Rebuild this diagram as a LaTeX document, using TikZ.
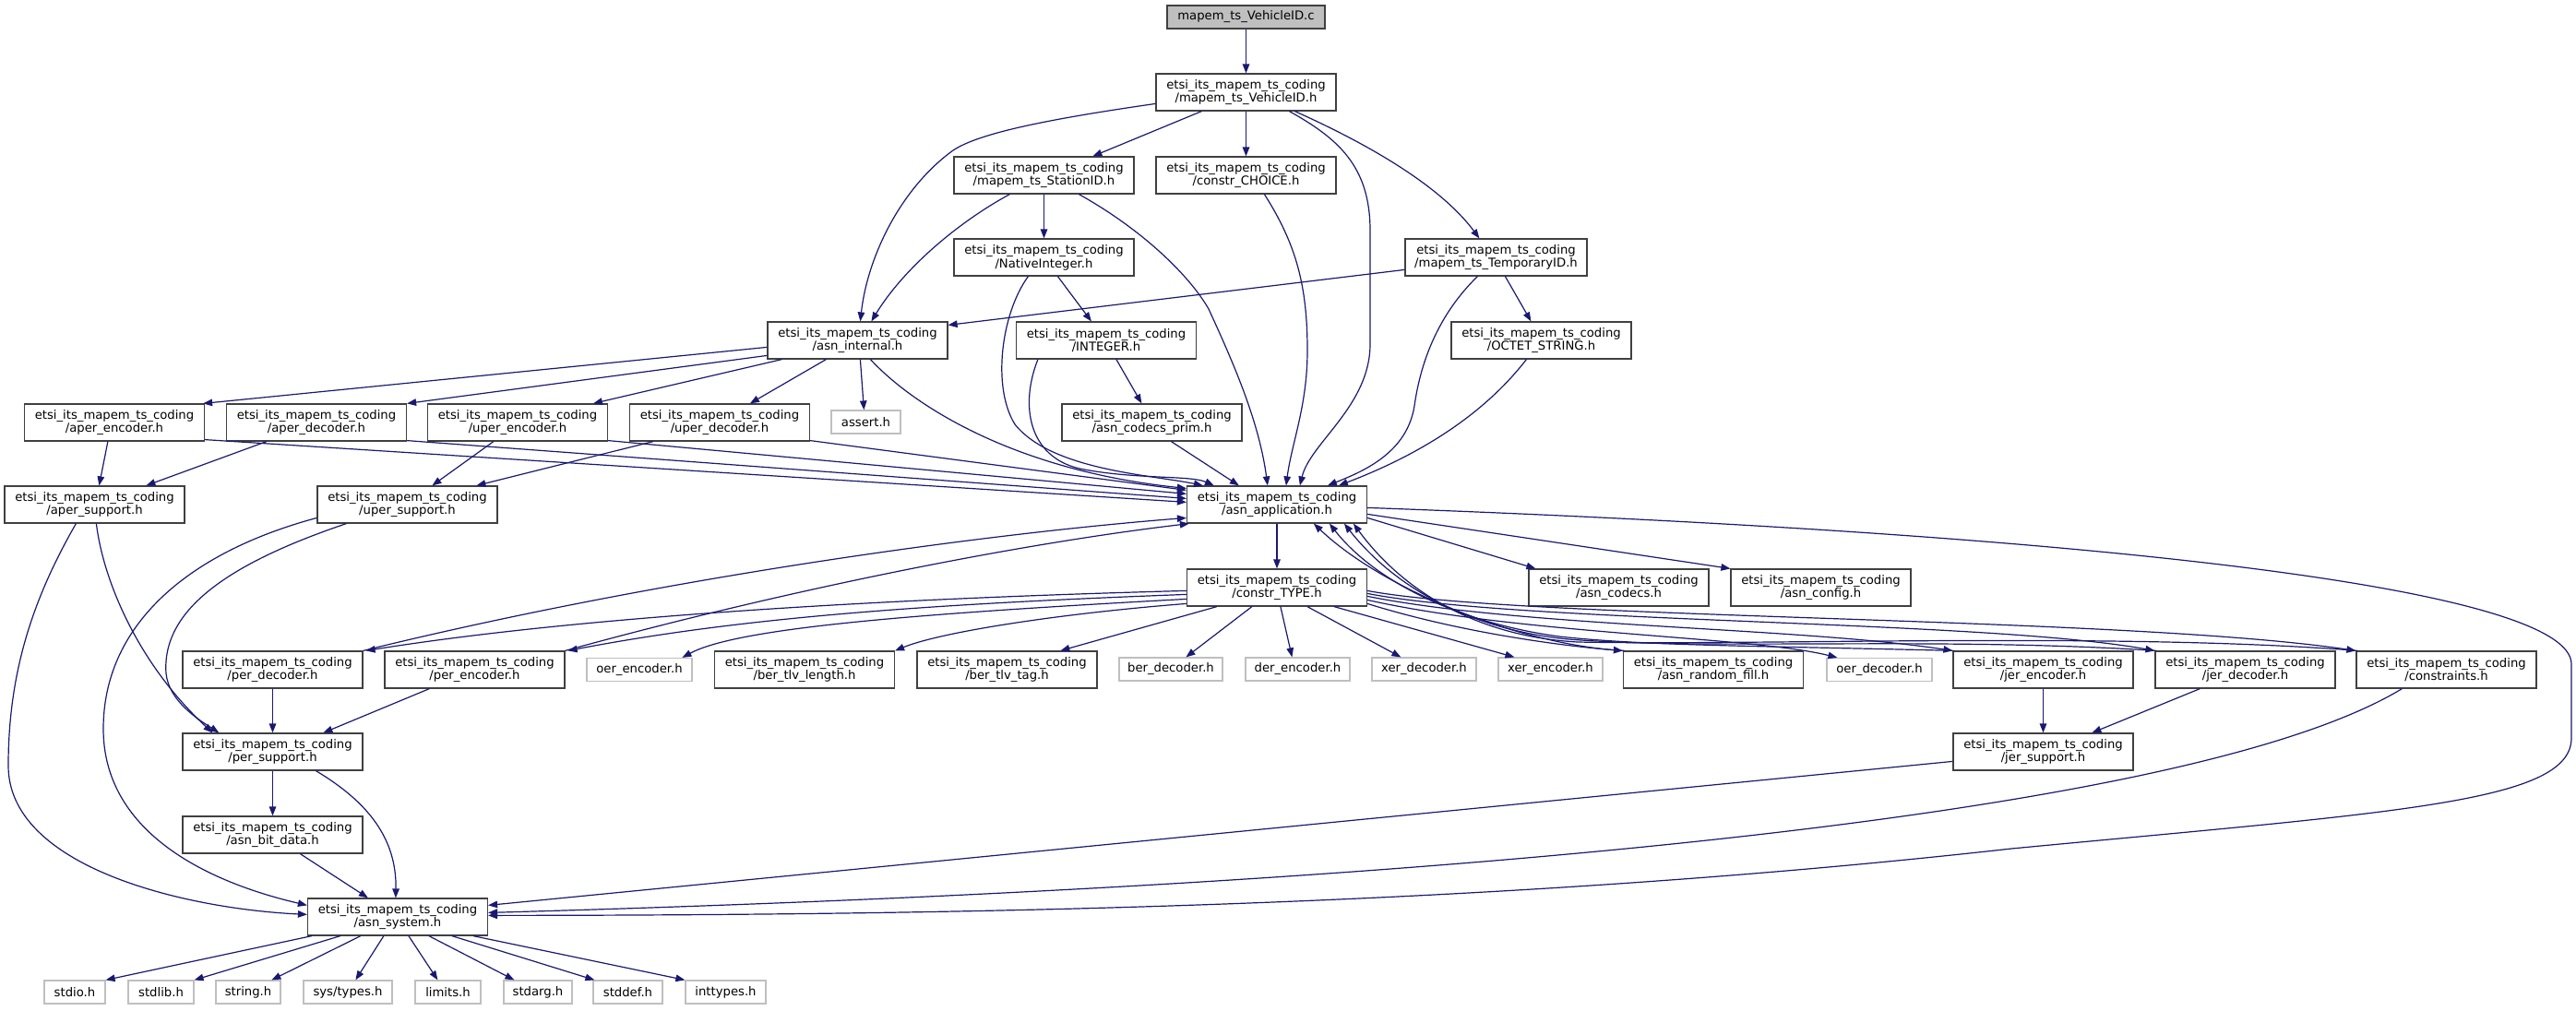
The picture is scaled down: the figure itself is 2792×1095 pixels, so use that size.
\documentclass[tikz,border=0pt]{standalone}
\usepackage{fontspec}
\newfontfamily\gfam{DejaVu Sans}
\usetikzlibrary{arrows.meta}
\definecolor{edgeblue}{HTML}{191970}
\definecolor{ndborder}{HTML}{404040}
\definecolor{sysborder}{HTML}{BFBFBF}
\definecolor{rootfill}{HTML}{BFBFBF}
\newcommand{\gfnt}{\gfam\fontsize{13.2pt}{14.8pt}\selectfont}
\begin{document}
\begin{tikzpicture}[x=1pt,y=-1pt,
  nd/.style={draw=ndborder, line width=1.2pt, fill=white, inner sep=0pt, align=center, font=\gfnt, minimum height=40pt, minimum width=195pt},
  sysnd/.style={draw=sysborder, line width=1.2pt, fill=white, inner sep=0pt, font=\gfnt, minimum height=25pt},
  rootnd/.style={draw=ndborder, line width=1.2pt, fill=rootfill, inner sep=0pt, font=\gfnt, minimum height=25pt},
  edge/.style={draw=edgeblue, line width=1.2pt, -{Triangle[length=10pt,width=7.5pt]}}]
\fill[white] (0,0) rectangle (2792,1095);
\useasboundingbox (0,0) rectangle (2792,1095);
% nodes
\node[rootnd, minimum width=171pt] (root) at (1350.5,18.5) {mapem\_ts\_VehicleID.c};
\node[nd] (vh) at (1350.5,100) {etsi\_its\_mapem\_ts\_coding\\/mapem\_ts\_VehicleID.h};
\node[nd] (st) at (1131.5,190) {etsi\_its\_mapem\_ts\_coding\\/mapem\_ts\_StationID.h};
\node[nd] (ch) at (1350.5,190) {etsi\_its\_mapem\_ts\_coding\\/constr\_CHOICE.h};
\node[nd] (ni) at (1131.5,279) {etsi\_its\_mapem\_ts\_coding\\/NativeInteger.h};
\node[nd, minimum width=197pt] (tmp) at (1621.5,279) {etsi\_its\_mapem\_ts\_coding\\/mapem\_ts\_TemporaryID.h};
\node[nd] (ai) at (929.5,369) {etsi\_its\_mapem\_ts\_coding\\/asn\_internal.h};
\node[nd] (int) at (1199,369) {etsi\_its\_mapem\_ts\_coding\\/INTEGER.h};
\node[nd] (oct) at (1670.5,369) {etsi\_its\_mapem\_ts\_coding\\/OCTET\_STRING.h};
\node[nd] (acp) at (1248.5,458) {etsi\_its\_mapem\_ts\_coding\\/asn\_codecs\_prim.h};
\node[nd] (aenc) at (124,458) {etsi\_its\_mapem\_ts\_coding\\/aper\_encoder.h};
\node[nd] (adec) at (343,458) {etsi\_its\_mapem\_ts\_coding\\/aper\_decoder.h};
\node[nd] (uenc) at (561,458) {etsi\_its\_mapem\_ts\_coding\\/uper\_encoder.h};
\node[nd] (udec) at (780,458) {etsi\_its\_mapem\_ts\_coding\\/uper\_decoder.h};
\node[sysnd, minimum width=75pt] (assert) at (938.5,457.5) {assert.h};
\node[nd] (asup) at (102.5,547) {etsi\_its\_mapem\_ts\_coding\\/aper\_support.h};
\node[nd] (usup) at (441.5,547) {etsi\_its\_mapem\_ts\_coding\\/uper\_support.h};
\node[nd] (app) at (1384,547) {etsi\_its\_mapem\_ts\_coding\\/asn\_application.h};
\node[nd] (ctype) at (1384,637) {etsi\_its\_mapem\_ts\_coding\\/constr\_TYPE.h};
\node[nd] (codecs) at (1754.5,637) {etsi\_its\_mapem\_ts\_coding\\/asn\_codecs.h};
\node[nd] (config) at (1973.5,637) {etsi\_its\_mapem\_ts\_coding\\/asn\_config.h};
\node[nd] (pdec) at (295.5,726) {etsi\_its\_mapem\_ts\_coding\\/per\_decoder.h};
\node[nd] (penc) at (514.5,726) {etsi\_its\_mapem\_ts\_coding\\/per\_encoder.h};
\node[sysnd, minimum width=114pt] (oenc) at (693,726) {oer\_encoder.h};
\node[nd] (btl) at (872,726) {etsi\_its\_mapem\_ts\_coding\\/ber\_tlv\_length.h};
\node[nd] (btt) at (1091.5,726) {etsi\_its\_mapem\_ts\_coding\\/ber\_tlv\_tag.h};
\node[sysnd, minimum width=112pt] (berd) at (1269,725.5) {ber\_decoder.h};
\node[sysnd, minimum width=113pt] (dere) at (1406.5,725.5) {der\_encoder.h};
\node[sysnd, minimum width=113pt] (xerd) at (1543.5,725.5) {xer\_decoder.h};
\node[sysnd, minimum width=113pt] (xere) at (1680.5,725.5) {xer\_encoder.h};
\node[nd] (rfill) at (1857,726) {etsi\_its\_mapem\_ts\_coding\\/asn\_random\_fill.h};
\node[sysnd, minimum width=114pt] (oerd) at (2037,726) {oer\_decoder.h};
\node[nd] (jenc) at (2214.5,726) {etsi\_its\_mapem\_ts\_coding\\/jer\_encoder.h};
\node[nd] (jdec) at (2433.5,726) {etsi\_its\_mapem\_ts\_coding\\/jer\_decoder.h};
\node[nd] (cons) at (2651.5,726) {etsi\_its\_mapem\_ts\_coding\\/constraints.h};
\node[nd] (jsup) at (2214.5,815) {etsi\_its\_mapem\_ts\_coding\\/jer\_support.h};
\node[nd] (psup) at (295.5,815) {etsi\_its\_mapem\_ts\_coding\\/per\_support.h};
\node[nd] (bit) at (295.5,905) {etsi\_its\_mapem\_ts\_coding\\/asn\_bit\_data.h};
\node[nd] (sys) at (431,994) {etsi\_its\_mapem\_ts\_coding\\/asn\_system.h};
\node[sysnd, minimum width=66pt] (stdio) at (81,1075.5) {stdio.h};
\node[sysnd, minimum width=71pt] (stdlib) at (174.5,1075.5) {stdlib.h};
\node[sysnd, minimum width=70pt] (string) at (269,1075.5) {string.h};
\node[sysnd, minimum width=96pt] (systypes) at (377,1075.5) {sys/types.h};
\node[sysnd, minimum width=71pt] (limits) at (485.5,1075.5) {limits.h};
\node[sysnd, minimum width=74pt] (stdarg) at (583,1075.5) {stdarg.h};
\node[sysnd, minimum width=75pt] (stddef) at (680.5,1075.5) {stddef.h};
\node[sysnd, minimum width=87pt] (inttypes) at (786.5,1075.5) {inttypes.h};
% edges
\draw[edge] (root.south) -- (vh.north);
\draw[edge] ([xshift=145pt]vh.south west) .. controls (1450,150) and (1485,180) .. (1485,250) -- (1485,373) .. controls (1485,440) and (1420,480) .. ([xshift=123pt]app.north west);
\draw[edge] ([xshift=50pt]vh.south west) -- ([xshift=151pt]st.north west);
\draw[edge] ([yshift=-33pt]vh.north west) .. controls (1130,130) and (1060,145) .. (1033,163) .. controls (975,205) and (940,280) .. ([xshift=101pt]ai.north west);
\draw[edge] (vh.south) -- (ch.north);
\draw[edge] ([xshift=151pt]vh.south west) .. controls (1480,155) and (1560,200) .. ([xshift=81pt]tmp.north west);
\draw[edge] ([xshift=136pt]st.south west) .. controls (1240,250) and (1290,300) .. (1310,335) .. controls (1340,400) and (1365,460) .. ([xshift=88pt]app.north west);
\draw[edge] (st.south) -- (ni.north);
\draw[edge] ([xshift=61pt]st.south west) .. controls (1040,240) and (980,290) .. ([xshift=113pt]ai.north west);
\draw[edge] ([xshift=81pt]ni.south west) .. controls (1085,340) and (1075,420) .. (1100,460) .. controls (1140,510) and (1250,515) .. ([xshift=18pt]app.north west);
\draw[edge] ([xshift=113pt]ni.south west) -- ([xshift=82pt]int.north west);
\draw[edge] ([xshift=24pt]int.south west) .. controls (1105,440) and (1115,495) .. (1170,508) .. controls (1230,520) and (1290,515) .. ([xshift=30pt]app.north west);
\draw[edge] ([xshift=109pt]int.south west) -- ([xshift=87pt]acp.north west);
\draw[edge] ([xshift=119pt]acp.south west) -- ([xshift=57pt]app.north west);
\draw[edge] ([xshift=118pt]ch.south west) .. controls (1405,265) and (1417,310) .. (1417,380) .. controls (1417,440) and (1400,480) .. ([xshift=108pt]app.north west);
\draw[edge] ([xshift=79pt]tmp.south west) .. controls (1560,340) and (1540,390) .. (1533,440) .. controls (1525,490) and (1480,510) .. ([xshift=153pt]app.north west);
\draw[edge] ([yshift=-34pt]tmp.north west) -- ([yshift=-4pt]ai.north east);
\draw[edge] ([xshift=109pt]tmp.south west) -- ([xshift=87pt]oct.north west);
\draw[edge] ([xshift=82pt]oct.south west) .. controls (1600,460) and (1520,500) .. ([xshift=165pt]app.north west);
\draw[edge] ([xshift=112pt]ai.south west) .. controls (990,440) and (1100,510) .. ([yshift=-3pt]app.north west);
\draw[edge] ([yshift=-28pt]ai.north west) -- ([xshift=-2pt]aenc.north east);
\draw[edge] ([yshift=-37pt]ai.north west) -- (adec.north east);
\draw[edge] ([xshift=16pt]ai.south west) -- ([xshift=180pt]uenc.north west);
\draw[edge] ([xshift=64pt]ai.south west) -- ([xshift=131pt]udec.north west);
\draw[edge] ([xshift=101pt]ai.south west) -- ([xshift=36pt]assert.north west);
\draw[edge] ([yshift=2pt]aenc.south east) -- ([yshift=-18pt]app.north west);
\draw[edge] ([yshift=1pt]adec.south east) -- ([yshift=-14pt]app.north west);
\draw[edge] ([yshift=1pt]uenc.south east) -- ([yshift=-9pt]app.north west);
\draw[edge] ([yshift=1pt]udec.south east) -- ([yshift=-5pt]app.north west);
\draw[edge] ([xshift=91pt]aenc.south west) -- ([xshift=103pt]asup.north west);
\draw[edge] ([xshift=44pt]adec.south west) -- ([xshift=154pt]asup.north west);
\draw[edge] ([xshift=72pt]uenc.south west) -- ([xshift=125pt]usup.north west);
\draw[edge] ([xshift=26pt]udec.south west) -- ([xshift=173pt]usup.north west);
\draw[edge] ([xshift=78pt]asup.south west) .. controls (35,650) and (9,730) .. (9,830) .. controls (9,940) and (200,985) .. ([yshift=-18pt]sys.north west);
\draw[edge] ([xshift=100pt]asup.south west) .. controls (112,630) and (150,720) .. ([xshift=33pt]psup.north west);
\draw[edge] ([yshift=-35pt]usup.north west) .. controls (200,600) and (112,680) .. (112,790) .. controls (112,900) and (220,955) .. ([yshift=-8pt]sys.north west);
\draw[edge] ([xshift=32pt]usup.south west) .. controls (250,610) and (175,660) .. (180,730) .. controls (183,760) and (215,780) .. ([xshift=40pt]psup.north west);
\draw[edge] ([yshift=-24pt]app.north east) .. controls (2300,580) and (2787,640) .. (2787,720) -- (2787,800) .. controls (2787,870) and (2600,880) .. (2180,920) .. controls (1600,985) and (1000,992) .. ([yshift=-19pt]sys.north east);
\draw[edge] ([yshift=-35pt]app.north east) -- ([xshift=8pt]codecs.north west);
\draw[edge] (app.south) -- (ctype.north);
\draw[edge] ([yshift=-31pt]app.north east) -- (config.north west);
\draw[edge] ([yshift=-24pt]ctype.north west) .. controls (1000,648) and (650,665) .. ([xshift=3pt]pdec.north east);
\draw[edge] (pdec.north east) .. controls (700,630) and (1050,580) .. ([yshift=-35pt]app.north west);
\draw[edge] ([yshift=-28pt]ctype.north west) .. controls (1000,655) and (800,670) .. ([xshift=3pt]penc.north east);
\draw[edge] (penc.north east) .. controls (850,640) and (1100,590) .. ([xshift=3pt]app.south west);
\draw[edge] ([yshift=-33pt]ctype.north west) .. controls (1000,665) and (800,680) .. ([xshift=104pt]oenc.north west);
\draw[edge] ([yshift=-38pt]ctype.north west) .. controls (1150,665) and (1020,685) .. (btl.north east);
\draw[edge] ([xshift=33pt]ctype.south west) -- ([xshift=156pt]btt.north west);
\draw[edge] ([xshift=71pt]ctype.south west) -- ([xshift=73pt]berd.north west);
\draw[edge] ([xshift=102pt]ctype.south west) -- ([xshift=51pt]dere.north west);
\draw[edge] ([xshift=131pt]ctype.south west) -- ([xshift=32pt]xerd.north west);
\draw[edge] ([xshift=160pt]ctype.south west) -- ([xshift=18pt]xere.north west);
\draw[edge] ([yshift=-38pt]ctype.north east) .. controls (1580,685) and (1690,700) .. (rfill.north west);
\draw[edge] ([yshift=-34pt]ctype.north east) .. controls (1650,688) and (1900,690) .. ([xshift=12pt]oerd.north west);
\draw[edge] ([yshift=-30pt]ctype.north east) .. controls (1650,680) and (1950,680) .. (jenc.north west);
\draw[edge] ([yshift=-27pt]ctype.north east) .. controls (1650,676) and (2150,672) .. (jdec.north west);
\draw[edge] ([yshift=-24pt]ctype.north east) .. controls (1650,672) and (2300,668) .. (cons.north west);
\draw[edge] ([xshift=2pt]rfill.north west) .. controls (1650,700) and (1500,640) .. ([xshift=138pt]app.south west);
\draw[edge] ([xshift=2pt]jenc.north west) .. controls (1900,700) and (1780,700) .. (1690,690) .. controls (1580,675) and (1490,630) .. ([xshift=155pt]app.south west);
\draw[edge] ([xshift=2pt]jdec.north west) .. controls (2100,690) and (1850,705) .. (1700,693) .. controls (1590,682) and (1510,635) .. ([xshift=171pt]app.south west);
\draw[edge] ([xshift=2pt]cons.north west) .. controls (2300,685) and (1900,700) .. (1710,696) .. controls (1600,690) and (1520,640) .. ([xshift=181pt]app.south west);
\draw[edge] (jenc.south) -- (jsup.north);
\draw[edge] ([xshift=49pt]jdec.south west) -- ([xshift=151pt]jsup.north west);
\draw[edge] ([xshift=50pt]cons.south west) .. controls (2350,900) and (1400,965) .. ([yshift=-16pt]sys.north east);
\draw[edge] ([yshift=-31pt]jsup.north west) -- ([yshift=-8pt]sys.north east);
\draw[edge] (pdec.south) -- (psup.north);
\draw[edge] ([xshift=49pt]penc.south west) -- ([xshift=153pt]psup.north west);
\draw[edge] (psup.south) -- (bit.north);
\draw[edge] ([xshift=145pt]psup.south west) .. controls (400,870) and (430,910) .. ([xshift=96pt]sys.north west);
\draw[edge] ([xshift=128pt]bit.south west) -- ([xshift=66pt]sys.north west);
\draw[edge] ([xshift=5pt]sys.south west) -- (stdio.north east);
\draw[edge] ([xshift=36pt]sys.south west) -- (stdlib.north east);
\draw[edge] ([xshift=58pt]sys.south west) -- ([xshift=61pt]string.north west);
\draw[edge] ([xshift=83pt]sys.south west) -- ([xshift=57pt]systypes.north west);
\draw[edge] ([xshift=110pt]sys.south west) -- ([xshift=25pt]limits.north west);
\draw[edge] ([xshift=132pt]sys.south west) -- ([xshift=12pt]stdarg.north west);
\draw[edge] ([xshift=157pt]sys.south west) -- ([xshift=2pt]stddef.north west);
\draw[edge] ([xshift=180pt]sys.south west) -- (inttypes.north west);
\end{tikzpicture}
\end{document}
